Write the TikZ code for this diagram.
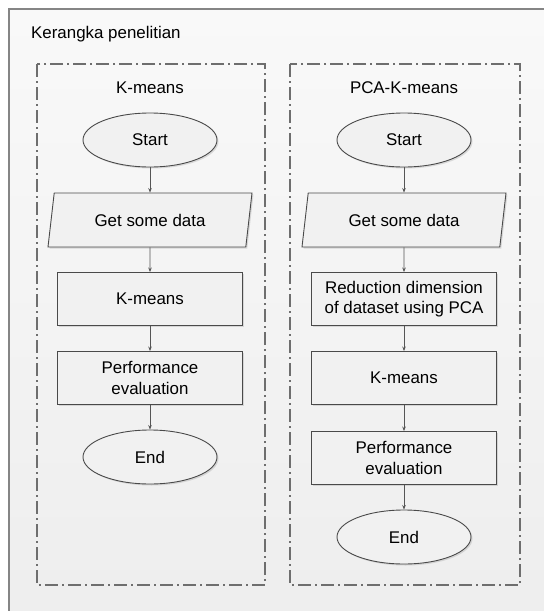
\documentclass[tikz,border=0pt]{standalone}
\usepackage{fontspec}
\setmainfont{Liberation Sans}
\usetikzlibrary{shapes.geometric,shadows,arrows.meta}
\definecolor{bgtop}{HTML}{F9F9F9}
\definecolor{bgbot}{HTML}{EDEDED}
\definecolor{framecol}{HTML}{858585}
\definecolor{dashcol}{HTML}{6E6E6E}
\definecolor{shapeline}{HTML}{4A4A4A}
\definecolor{shapefill}{HTML}{F1F1F1}
\definecolor{arrowcol}{HTML}{555555}
\tikzset{
  frame/.style={draw=framecol, line width=1.2pt},
  groupbox/.style={draw=dashcol, line width=1.2pt, dash pattern=on 13pt off 4pt on 2pt off 4pt},
  shapebase/.style={draw=shapeline, line width=0.9pt, fill=shapefill, text=black,
    drop shadow={opacity=0.25, shadow xshift=1.5pt, shadow yshift=-1.5pt}},
  terminal/.style={shapebase, ellipse, minimum width=134pt, minimum height=54pt, inner sep=0pt},
  iobox/.style={shapebase, trapezium, trapezium left angle=63.4, trapezium right angle=116.6,
    trapezium stretches body, minimum width=204pt, minimum height=54pt, inner sep=0pt},
  procbox/.style={shapebase, rectangle, minimum width=185pt, minimum height=53pt, inner sep=2pt, align=center},
  flow/.style={draw=arrowcol, line width=0.8pt, -{Stealth[length=4.5pt,width=3.5pt]}},
  heading/.style={text=black}
}
\begin{document}
\begin{tikzpicture}[x=1pt,y=-1pt, font=\fontsize{16.9}{20.5}\selectfont]
\useasboundingbox (0,0) rectangle (544,611);
\clip (0,0) rectangle (544,611);
\fill[white] (0,0) rectangle (544,611);
\shade[top color=bgtop, bottom color=bgbot] (9,9) rectangle (580,650);
\draw[frame] (9,650) -- (9,9) -- (580,9);
\node[anchor=west, inner sep=0pt] (title) at (31,34) {Kerangka penelitian};

\draw[groupbox] (37,64) rectangle (265,585);
\draw[groupbox] (290,64) rectangle (520,585);

\node[heading] (h1) at (150,88) {K-means};
\node[heading] (h2) at (404,88) {PCA-K-means};

% left column
\node[terminal] (s1) at (150,140) {Start};
\node[iobox] (g1) at (150,220) {Get some data};
\node[procbox] (k1) at (150,299) {K-means};
\node[procbox] (p1) at (150,378) {Performance\\evaluation};
\node[terminal] (e1) at (150,457) {End};

% right column
\node[terminal] (s2) at (404,140) {Start};
\node[iobox] (g2) at (404,220) {Get some data};
\node[procbox] (r2) at (404,299) {Reduction dimension\\of dataset using PCA};
\node[procbox] (k2) at (404,378) {K-means};
\node[procbox] (p2) at (404,458) {Performance\\evaluation};
\node[terminal] (e2) at (404,537) {End};

\draw[flow] (s1) -- (g1);
\draw[flow] (g1) -- (k1);
\draw[flow] (k1) -- (p1);
\draw[flow] (p1) -- (e1);

\draw[flow] (s2) -- (g2);
\draw[flow] (g2) -- (r2);
\draw[flow] (r2) -- (k2);
\draw[flow] (k2) -- (p2);
\draw[flow] (p2) -- (e2);
\end{tikzpicture}
\end{document}
